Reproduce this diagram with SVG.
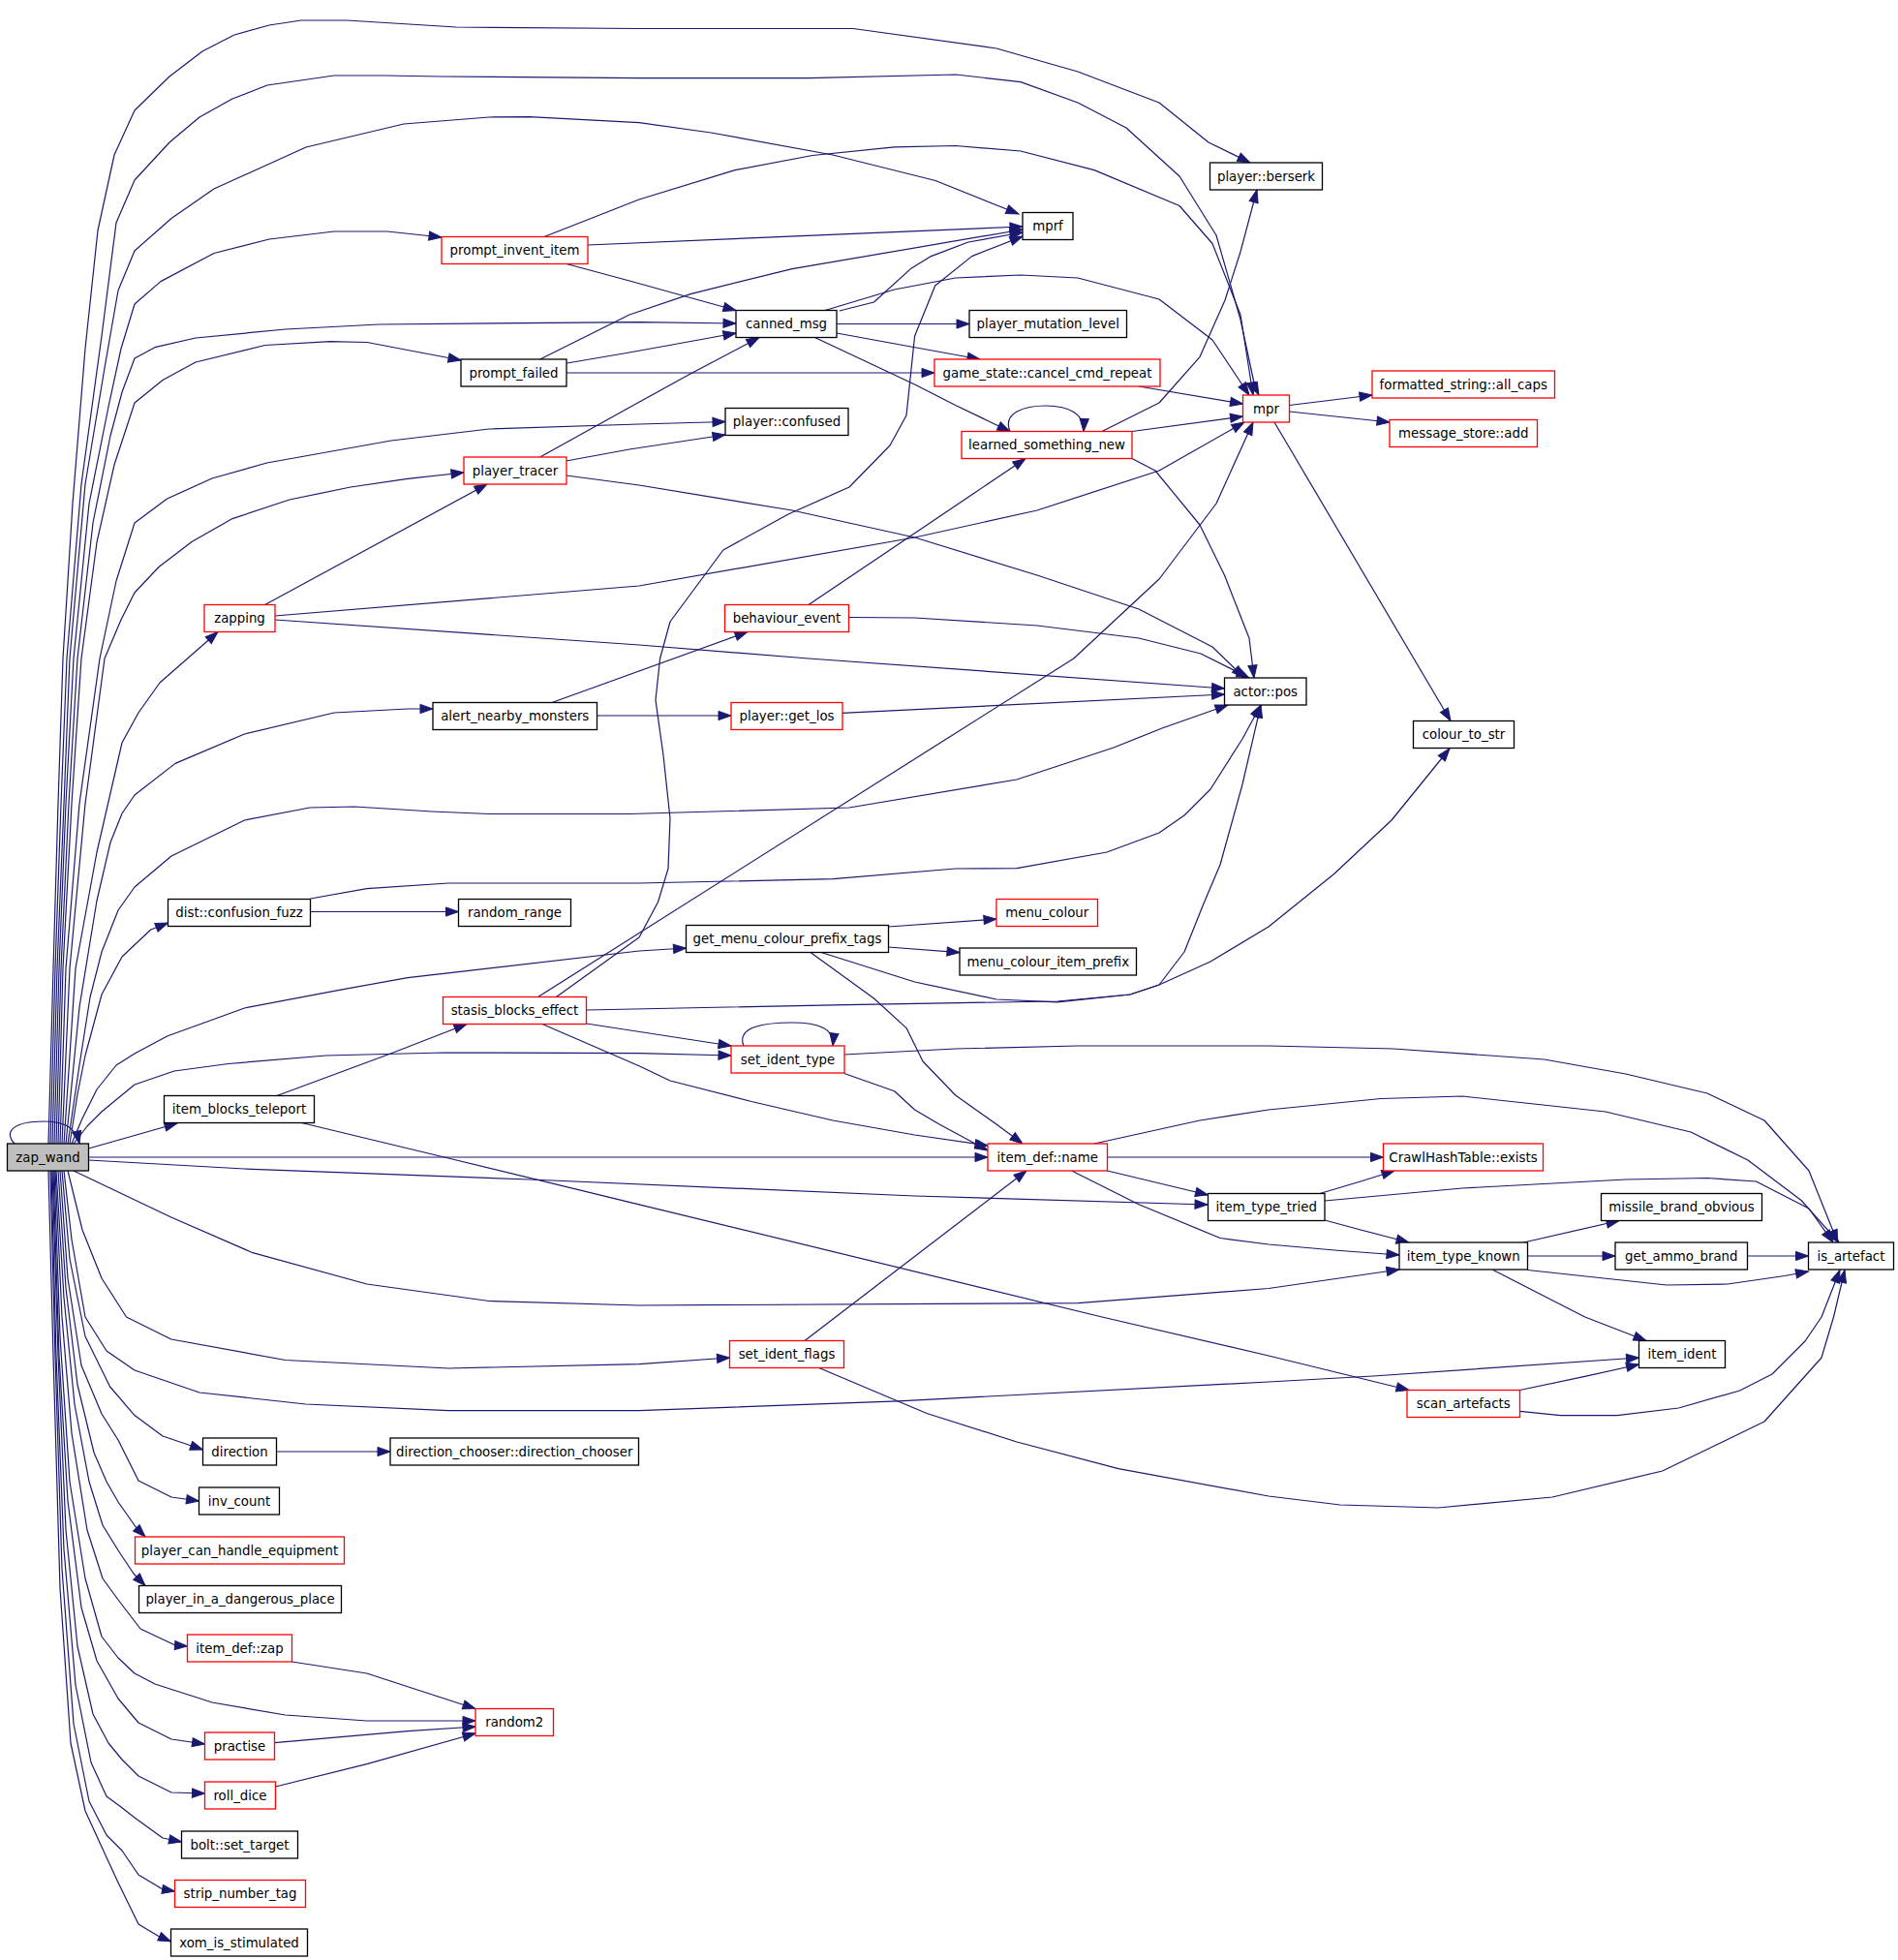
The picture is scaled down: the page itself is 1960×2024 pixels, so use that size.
<svg xmlns="http://www.w3.org/2000/svg" width="1960" height="2024" viewBox="0 0 1960 2024">
<style>
.n rect{fill:#fff;stroke:#000;stroke-width:1.3}
.n.r rect{stroke:#ff0000}
.n.root rect{fill:#bfbfbf}
.n text{font-family:"DejaVu Sans","Liberation Sans",sans-serif;font-size:13.33px;text-anchor:middle;fill:#000}
#edges path{fill:none;stroke:#191970;stroke-width:1.2;stroke-linejoin:round;marker-end:url(#a)}
</style>
<defs>
<marker id="a" markerUnits="userSpaceOnUse" markerWidth="14" markerHeight="10" refX="13" refY="4.6" orient="auto" overflow="visible">
<path d="M0,0 L13,4.6 L0,9.2 z" fill="#191970" stroke="#191970" stroke-width="1"/>
</marker>
</defs>
<rect width="1960" height="2024" fill="#fff"/>
<g id="edges">
<path d="M50,1181 L55,1000 L60,830 L65,680 L75,520 L88,360 L101,238 L118,160 L139,114 L175,79 L209,53 L242,36 L278,26 L311,21 L358,21 L471,28 L660,29.5 L881,29.5 L1029,50 L1113,74 L1197,106 L1248,147 L1291,168"/>
<path d="M52,1181 L57,1000 L63,830 L69,680 L84,500 L105,347 L120,230 L139,186 L175,147 L206,121 L240,102 L276,88 L345,78 L396,78 L455,79 L660,80.7 L835,80.7 L987,77 L1054,84.6 L1113,106 L1163,132 L1218,182 L1256,243 L1281,330 L1296,400 L1300,408"/>
<path d="M54,1181 L59,1000 L66,830 L72,680 L88,500 L108,380 L122,300 L139,259 L177,225.5 L221,195 L316,152 L417,128 L505,121 L547,120.6 L660,126.6 L734,137 L860,160 L966,186.5 L1052,221"/>
<path d="M56,1181 L61,1000 L68,830 L76,680 L92,520 L112,420 L125,360 L139,314 L166,290.6 L221,261.5 L278,247 L345,239 L400,239 L456,245"/>
<path d="M58,1181 L63,1000 L71,830 L80,680 L96,540 L114,450 L126,405 L139,370 L160,358.7 L202,349 L295,340 L391,335 L660,332.6 L760,334"/>
<path d="M60,1181 L65,1000 L74,830 L84,680 L100,560 L118,480 L139,416 L168,392.5 L202,374 L273.6,356.5 L341,352.6 L379,353.5 L476,372"/>
<path d="M62,1181 L68,1000 L82,830 L103,680 L120,600 L139,540 L172.6,515 L219,494 L275.7,478 L404,455 L505,443 L660,438 L749,435.5"/>
<path d="M64,1181 L72,1000 L88,830 L108,680 L125,640 L139,612 L164,585.5 L198,559.5 L240,535.6 L299,516 L362,503 L421,494.4 L479,488"/>
<path d="M66,1181 L78,1000 L100,880 L126,767 L143,736 L165,705 L193.6,680 L225,652.5"/>
<path d="M68,1181 L82,1040 L100,930 L114,870 L126,840 L139,821 L181,788.4 L252.5,758 L345,736 L421,732 L447,732"/>
<path d="M70,1181 L82,1100 L93,1030 L105,983 L122,940 L139,916 L177,884 L252.5,847 L320,834 L366,833 L446,838 L505,840.5 L650,840.5 L877,834 L1050,805 L1150,772 L1200,752 L1268,728"/>
<path d="M72,1181 L80,1130 L88,1090 L105,1027 L126,988 L155.7,960 L173.5,953"/>
<path d="M74,1181 L85,1155 L100,1125 L120,1100 L139,1088 L172.6,1070 L252.5,1041 L349,1022.6 L421,1009.6 L660,982 L708.5,979"/>
<path d="M76,1181 L90,1163 L105,1148 L139,1120 L180,1106 L235.7,1098.5 L336.7,1090 L459,1087 L660,1087.7 L755,1090"/>
<path d="M91.5,1186 L183,1160"/>
<path d="M91.5,1195 L1020,1195"/>
<path d="M91.5,1198 L252.5,1207 L547,1218 L944.6,1235 L1247,1244"/>
<path d="M76,1209 L176.8,1257 L261,1293.7 L378.8,1326 L505,1343.5 L660,1348 L1113,1345.7 L1310,1330.5 L1445,1311"/>
<path d="M70,1209 L85,1270 L105,1320 L130.5,1360 L176.8,1383 L294.6,1404.5 L463,1413 L660,1408.7 L753.5,1402"/>
<path d="M66,1209 L74,1280 L88,1360 L110,1395 L139,1415 L206,1438 L315.7,1450 L463,1456.6 L660,1456.6 L927.8,1446.8 L1310,1427 L1418,1421 L1692.5,1402"/>
<path d="M64,1209 L72,1300 L88,1380 L113.6,1432 L139,1461.6 L168,1483 L209.5,1497"/>
<path d="M62,1209 L70,1320 L84,1410 L105,1460 L122,1487 L143,1529 L177,1546 L205.5,1550"/>
<path d="M60,1209 L68,1330 L80,1430 L97,1500 L110,1530 L122,1551 L141,1578 L150,1587"/>
<path d="M58,1209 L66,1340 L77,1450 L92,1530 L106,1575 L122,1601 L138,1625 L150,1637.5"/>
<path d="M57,1209 L64,1360 L74,1480 L90,1580 L106,1630 L122,1652 L145,1682 L181,1699 L193.5,1700"/>
<path d="M56,1209 L62,1380 L72,1530 L88,1630 L105,1690 L122,1712 L139,1728 L160,1739 L219,1758 L294.6,1771 L378.8,1777 L491,1777"/>
<path d="M55,1209 L61,1400 L70,1550 L84,1660 L100,1715 L122,1754 L143,1779 L177,1796 L211.5,1801"/>
<path d="M54,1209 L60,1400 L68,1580 L80,1700 L96,1770 L112,1800 L126,1817 L143,1834 L177,1851 L211.5,1852"/>
<path d="M53,1209 L58,1400 L66,1600 L78,1740 L94,1820 L110,1855 L125,1866 L139,1877 L168,1898 L187.5,1902"/>
<path d="M52,1209 L57,1400 L64,1620 L76,1780 L92,1860 L110,1895 L126,1911 L143,1936 L168,1951 L180.5,1953"/>
<path d="M50,1209 L55,1400 L62,1640 L73,1800 L88,1870 L104,1905 L122,1944 L143,1987 L163,1999 L176.5,2005"/>
<path d="M15,1181 C3,1168 15,1158 45,1158 C65,1158 78,1163 82,1181"/>
<path d="M607,253 L1056,234"/>
<path d="M585,272.5 L650,290 L760,320.5"/>
<path d="M562,244.5 L660,206 L759,175.6 L839,160.5 L923.6,151.8 L986.7,150.5 L1054,156 L1130,175.6 L1218,212.5 L1252,251.5 L1281,325 L1294,408"/>
<path d="M585,385 L965,385"/>
<path d="M585.5,375 L650,364 L760,344"/>
<path d="M557.7,371 L650,325 L713,303.6 L818,277.6 L1056,237"/>
<path d="M864,334.5 L1001,334.5"/>
<path d="M864,344 L1012,371"/>
<path d="M841.5,348.5 L944.6,397 L986.7,418.5 L1043,445.5"/>
<path d="M852,320.5 L923.6,299 L986.7,287 L1054,284 L1113,287 L1197,309 L1252,351 L1290,408"/>
<path d="M866.8,321 L902.5,312 L940.4,277.6 L961.5,264.6 L1000,250 L1056,240"/>
<path d="M1176,399 L1283.5,417"/>
<path d="M1043,445.5 C1035,426 1058,419 1080,419 C1105,419 1120,428 1119,445.5"/>
<path d="M1169,445.5 L1283.5,430"/>
<path d="M1138,445.5 L1197,416 L1239,368.6 L1265,310 L1281,260 L1298,196"/>
<path d="M1169,473.5 L1193,486 L1239,542 L1264.5,594 L1290,659 L1295,700"/>
<path d="M584.6,476 L650,464 L749,449"/>
<path d="M557.7,472 L650,420.7 L713,386 L784,348.5"/>
<path d="M584.6,491 L660,501 L818,527 L944.6,555 L1071,594 L1176,629 L1252,668 L1285,700"/>
<path d="M273.6,624.5 L503,500"/>
<path d="M283.7,636 L660,605 L944.6,555 L1071,527 L1197,486 L1285,436"/>
<path d="M283.7,640 L660,666 L835,680 L1264.5,711"/>
<path d="M835,624.5 L1059,473.5"/>
<path d="M876.5,637.5 L944.6,638 L1071,646 L1176,659 L1240,675 L1290,700"/>
<path d="M570,725.5 L772,652.5"/>
<path d="M616.5,739 L755,739"/>
<path d="M869.5,736.4 L1264.5,717"/>
<path d="M320.5,941.5 L473.5,941.5"/>
<path d="M320.5,928 L378.8,917.7 L463,912 L660,912 L860,907.7 L986.7,897 L1050,896.7 L1143,880 L1197,860 L1223,842 L1250,815 L1283,763 L1302,728"/>
<path d="M917.5,957 L1029,949"/>
<path d="M917.5,978 L991,983.6"/>
<path d="M837,983.5 L902.5,1031 L936,1061.6 L953,1096 L986.7,1131 L1029,1161 L1056,1181"/>
<path d="M848,983.5 L944.6,1014 L1029,1032 L1092,1034.8 L1167,1027 L1197,1017 L1250,993 L1310,957 L1377,903 L1437,847 L1497,773"/>
<path d="M605.5,1043 L860,1037.8 L1092,1034 L1167,1027 L1197,1017 L1223,983 L1243,933 L1260,893 L1283,810 L1302,728"/>
<path d="M574.5,1029.5 L660,968 L679.5,931.5 L690,897 L692,845 L685,780 L677,723 L681.6,680 L692,642 L746.8,568 L814,531 L877,503 L919,460 L936,429 L944.6,347 L965.7,295 L1003.6,264.6 L1056,244"/>
<path d="M555.6,1029.5 L1108.8,680 L1197,598 L1256,520 L1294,436"/>
<path d="M605.5,1057 L755,1080"/>
<path d="M560,1057.5 L660,1100.7 L692,1116 L776,1137.5 L860,1157 L944.6,1172 L1020,1183"/>
<path d="M768,1080 C760,1060 790,1056 818,1056 C845,1056 862,1062 860,1080"/>
<path d="M871.8,1108.5 L923.6,1126.7 L944.6,1146 L970,1161 L1020,1188"/>
<path d="M871.8,1089 L986.7,1083 L1113,1080 L1310,1080 L1439,1083 L1594.6,1094 L1678.8,1109 L1763,1129 L1822,1157 L1868,1209 L1897.7,1283"/>
<path d="M286,1131.5 L404,1087.7 L482,1057.5"/>
<path d="M311.5,1159.5 L463,1196 L660,1243.8 L1138,1360 L1310,1400 L1455,1435.5"/>
<path d="M1143.5,1195 L1428.5,1195"/>
<path d="M1143.5,1209 L1247.5,1234"/>
<path d="M1106.7,1209 L1176,1243.8 L1260,1278.5 L1310,1285 L1384,1291.5 L1445,1296"/>
<path d="M1130,1181 L1239,1157 L1310,1146 L1426,1134.5 L1510,1132 L1657.8,1148 L1746,1169 L1805,1198 L1860,1239.5 L1899,1283"/>
<path d="M1363,1232.5 L1405,1220 L1440,1209"/>
<path d="M1368,1240 L1510,1227 L1678.8,1218 L1763,1216.5 L1813.5,1220 L1868,1248 L1893,1283"/>
<path d="M1368,1260 L1405,1270 L1455,1283"/>
<path d="M1573.6,1283 L1672,1260.5"/>
<path d="M1577.5,1297 L1668,1297"/>
<path d="M1577.5,1311.5 L1721,1327 L1784,1326 L1843,1317.5 L1867.5,1313"/>
<path d="M1542,1311.5 L1636.7,1360 L1700,1384.5"/>
<path d="M1804.5,1297 L1867.5,1297"/>
<path d="M831,1384.5 L1060,1209"/>
<path d="M845.7,1412.5 L957,1459.5 L1050,1489 L1155,1516.7 L1310,1545 L1384,1554 L1485,1557 L1603,1546 L1716.7,1519 L1822,1468 L1881,1402 L1893.5,1360 L1905,1311.5"/>
<path d="M1569.5,1435.5 L1636.7,1421.4 L1692.5,1409"/>
<path d="M1569.5,1457.4 L1611.5,1461.6 L1670,1461.6 L1733.5,1454 L1796.6,1436 L1830,1419 L1864,1385 L1881,1360 L1900,1311.5"/>
<path d="M1331.5,418.5 L1417,408"/>
<path d="M1331.5,425 L1435,436"/>
<path d="M1316,436 L1498,744.5"/>
<path d="M301.5,1716 L378.8,1728 L491,1764.5"/>
<path d="M283.5,1799.6 L421,1787.7 L491,1783"/>
<path d="M284.5,1845 L378.8,1821.6 L491,1790"/>
<path d="M285.5,1499 L403,1499"/>
</g>
<g id="zap_wand" class="n root"><rect x="7.5" y="1181" width="84" height="28"/><text x="49.5" y="1199.7">zap_wand</text></g>
<g id="player_berserk" class="n"><rect x="1249.5" y="168" width="116" height="28"/><text x="1307.5" y="186.7">player::berserk</text></g>
<g id="mprf" class="n"><rect x="1056" y="219.5" width="52" height="28"/><text x="1082" y="238.2">mprf</text></g>
<g id="prompt_invent_item" class="n r"><rect x="456" y="244.5" width="151" height="28"/><text x="531.5" y="263.2">prompt_invent_item</text></g>
<g id="canned_msg" class="n"><rect x="760" y="320.5" width="104" height="28"/><text x="812" y="339.2">canned_msg</text></g>
<g id="player_mutation_level" class="n"><rect x="1001" y="320.5" width="162.5" height="28"/><text x="1082.25" y="339.2">player_mutation_level</text></g>
<g id="prompt_failed" class="n"><rect x="476" y="371" width="109" height="28"/><text x="530.5" y="389.7">prompt_failed</text></g>
<g id="cancel_cmd_repeat" class="n r"><rect x="965" y="371" width="233" height="28"/><text x="1081.5" y="389.7">game_state::cancel_cmd_repeat</text></g>
<g id="all_caps" class="n r"><rect x="1417" y="383" width="188.5" height="28"/><text x="1511.25" y="401.7">formatted_string::all_caps</text></g>
<g id="mpr" class="n r"><rect x="1283.5" y="408" width="48" height="28"/><text x="1307.5" y="426.7">mpr</text></g>
<g id="player_confused" class="n"><rect x="749" y="421.5" width="127" height="28"/><text x="812.5" y="440.2">player::confused</text></g>
<g id="message_store_add" class="n r"><rect x="1435" y="433.5" width="152.5" height="28"/><text x="1511.25" y="452.2">message_store::add</text></g>
<g id="learned_something_new" class="n r"><rect x="993" y="445.5" width="176" height="28"/><text x="1081" y="464.2">learned_something_new</text></g>
<g id="player_tracer" class="n r"><rect x="479" y="472" width="106" height="28"/><text x="532" y="490.7">player_tracer</text></g>
<g id="zapping" class="n r"><rect x="211" y="624.5" width="73" height="28"/><text x="247.5" y="643.2">zapping</text></g>
<g id="behaviour_event" class="n r"><rect x="748.5" y="624.5" width="128" height="28"/><text x="812.5" y="643.2">behaviour_event</text></g>
<g id="actor_pos" class="n"><rect x="1264.5" y="700" width="84.5" height="28"/><text x="1306.75" y="718.7">actor::pos</text></g>
<g id="alert_nearby_monsters" class="n"><rect x="447" y="725.5" width="169.5" height="28"/><text x="531.75" y="744.2">alert_nearby_monsters</text></g>
<g id="player_get_los" class="n r"><rect x="755" y="725.5" width="115" height="28"/><text x="812.5" y="744.2">player::get_los</text></g>
<g id="colour_to_str" class="n"><rect x="1459.5" y="744.5" width="104" height="28"/><text x="1511.5" y="763.2">colour_to_str</text></g>
<g id="confusion_fuzz" class="n"><rect x="173.5" y="928.5" width="147" height="28"/><text x="247" y="947.2">dist::confusion_fuzz</text></g>
<g id="random_range" class="n"><rect x="473.5" y="928.5" width="116" height="28"/><text x="531.5" y="947.2">random_range</text></g>
<g id="menu_colour" class="n r"><rect x="1029" y="928.5" width="104.5" height="28"/><text x="1081.25" y="947.2">menu_colour</text></g>
<g id="get_menu_colour_prefix_tags" class="n"><rect x="708.5" y="955.5" width="209" height="28"/><text x="813" y="974.2">get_menu_colour_prefix_tags</text></g>
<g id="menu_colour_item_prefix" class="n"><rect x="991" y="979" width="182.5" height="28"/><text x="1082.25" y="997.7">menu_colour_item_prefix</text></g>
<g id="stasis_blocks_effect" class="n r"><rect x="457.5" y="1029.5" width="148" height="28"/><text x="531.5" y="1048.2">stasis_blocks_effect</text></g>
<g id="set_ident_type" class="n r"><rect x="755" y="1080" width="117" height="28"/><text x="813.5" y="1098.7">set_ident_type</text></g>
<g id="item_blocks_teleport" class="n"><rect x="169.5" y="1131.5" width="155" height="28"/><text x="247" y="1150.2">item_blocks_teleport</text></g>
<g id="item_def_name" class="n r"><rect x="1020" y="1181" width="123.5" height="28"/><text x="1081.75" y="1199.7">item_def::name</text></g>
<g id="crawlhashtable_exists" class="n r"><rect x="1428.5" y="1181" width="165" height="28"/><text x="1511" y="1199.7">CrawlHashTable::exists</text></g>
<g id="item_type_tried" class="n"><rect x="1247.5" y="1232.5" width="120.5" height="28"/><text x="1307.75" y="1251.2">item_type_tried</text></g>
<g id="missile_brand_obvious" class="n"><rect x="1653.5" y="1232.5" width="166" height="28"/><text x="1736.5" y="1251.2">missile_brand_obvious</text></g>
<g id="item_type_known" class="n"><rect x="1445" y="1283" width="132.5" height="28"/><text x="1511.25" y="1301.7">item_type_known</text></g>
<g id="get_ammo_brand" class="n"><rect x="1668" y="1283" width="136.5" height="28"/><text x="1736.25" y="1301.7">get_ammo_brand</text></g>
<g id="is_artefact" class="n"><rect x="1867.5" y="1283" width="88" height="28"/><text x="1911.5" y="1301.7">is_artefact</text></g>
<g id="set_ident_flags" class="n r"><rect x="753.5" y="1384.5" width="118" height="28"/><text x="812.5" y="1403.2">set_ident_flags</text></g>
<g id="item_ident" class="n"><rect x="1692.5" y="1384.5" width="89" height="28"/><text x="1737" y="1403.2">item_ident</text></g>
<g id="scan_artefacts" class="n r"><rect x="1453" y="1435.5" width="116.5" height="28"/><text x="1511.25" y="1454.2">scan_artefacts</text></g>
<g id="direction" class="n"><rect x="209.5" y="1485" width="76" height="28"/><text x="247.5" y="1503.7">direction</text></g>
<g id="direction_chooser" class="n"><rect x="403" y="1485" width="256.5" height="28"/><text x="531.25" y="1503.7">direction_chooser::direction_chooser</text></g>
<g id="inv_count" class="n"><rect x="205.5" y="1536" width="83" height="28"/><text x="247" y="1554.7">inv_count</text></g>
<g id="player_can_handle_equipment" class="n r"><rect x="139.5" y="1587" width="216" height="28"/><text x="247.5" y="1605.7">player_can_handle_equipment</text></g>
<g id="player_in_a_dangerous_place" class="n"><rect x="143.5" y="1637.5" width="209" height="28"/><text x="248" y="1656.2">player_in_a_dangerous_place</text></g>
<g id="item_def_zap" class="n r"><rect x="193.5" y="1688" width="108" height="28"/><text x="247.5" y="1706.7">item_def::zap</text></g>
<g id="random2" class="n r"><rect x="491" y="1764.5" width="80.5" height="28"/><text x="531.25" y="1783.2">random2</text></g>
<g id="practise" class="n r"><rect x="211.5" y="1789" width="72" height="28"/><text x="247.5" y="1807.7">practise</text></g>
<g id="roll_dice" class="n r"><rect x="211.5" y="1840" width="73" height="28"/><text x="248" y="1858.7">roll_dice</text></g>
<g id="bolt_set_target" class="n"><rect x="187.5" y="1891" width="120" height="28"/><text x="247.5" y="1909.7">bolt::set_target</text></g>
<g id="strip_number_tag" class="n r"><rect x="180.5" y="1941.5" width="135" height="28"/><text x="248" y="1960.2">strip_number_tag</text></g>
<g id="xom_is_stimulated" class="n"><rect x="176.5" y="1992" width="141" height="28"/><text x="247" y="2010.7">xom_is_stimulated</text></g>
</svg>
